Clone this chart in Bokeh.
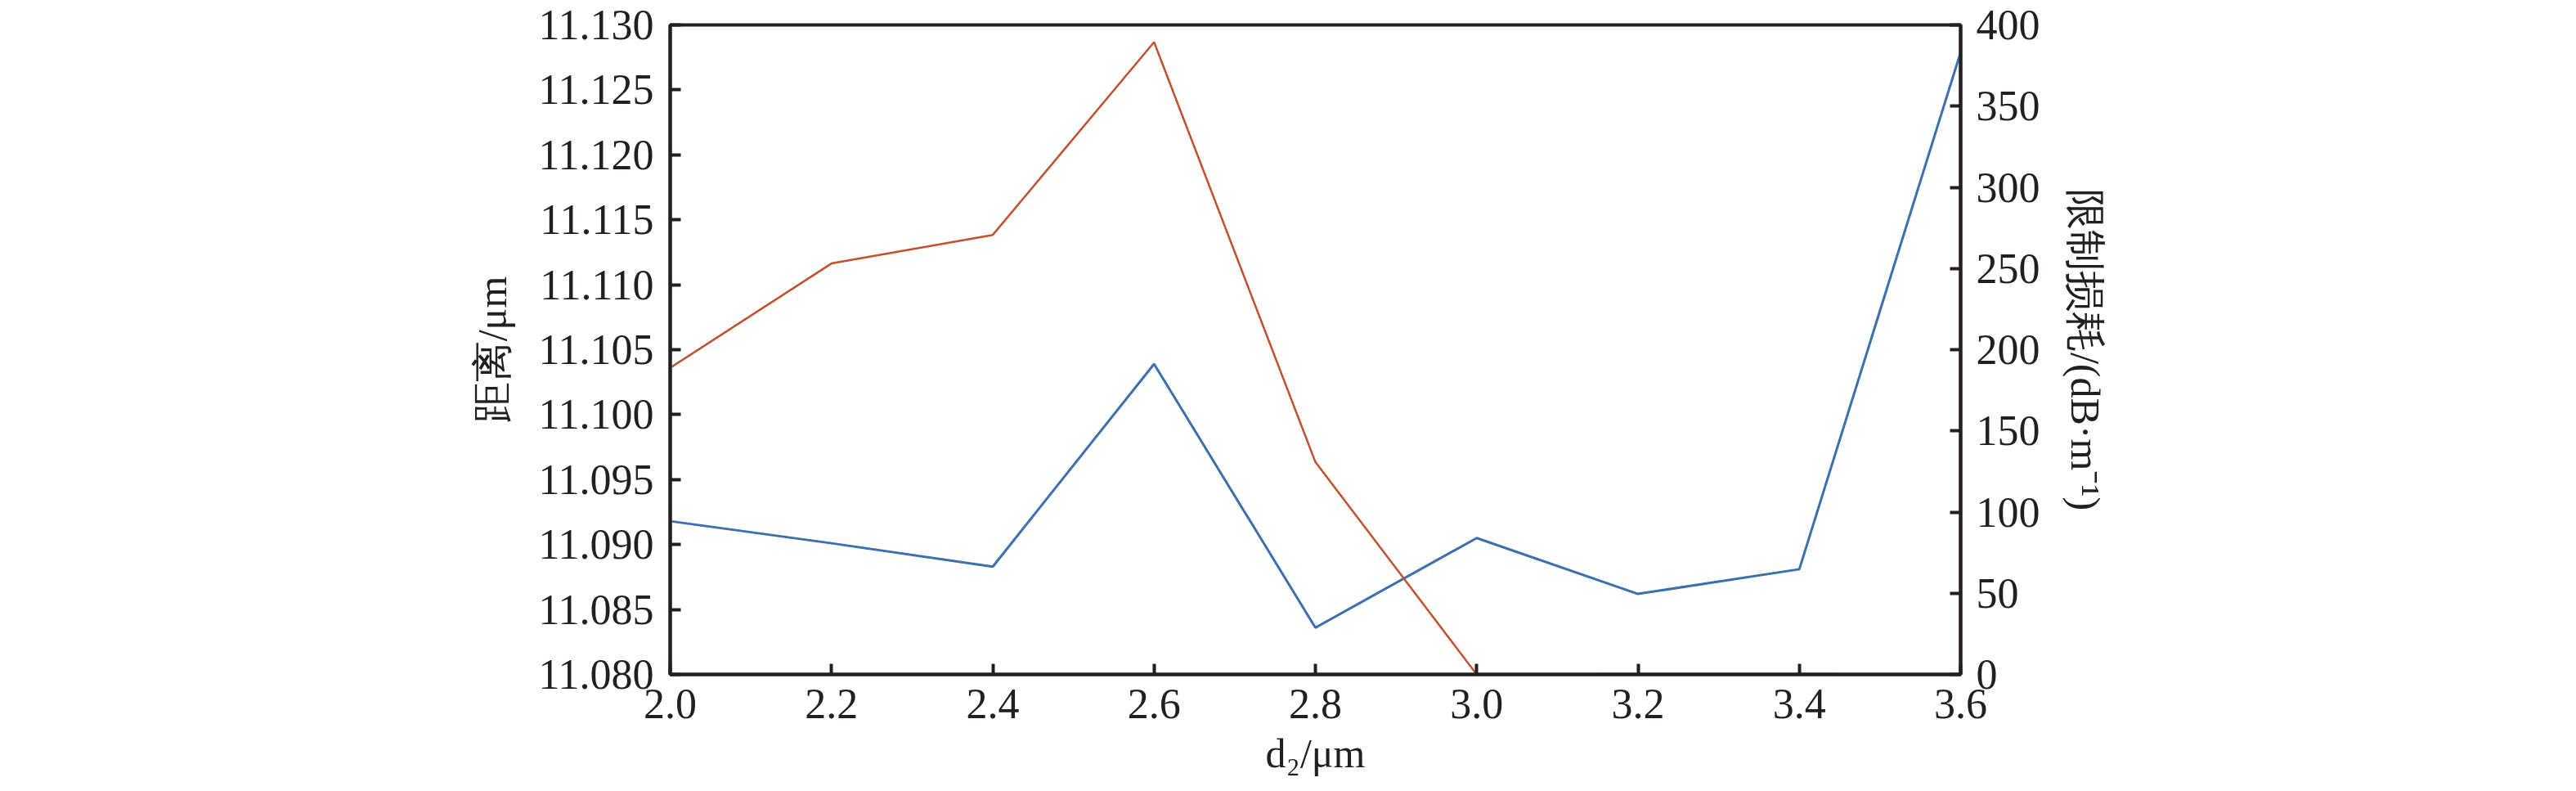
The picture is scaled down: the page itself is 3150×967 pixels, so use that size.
from bokeh.plotting import figure
from bokeh.models import LinearAxis, Range1d, SingleIntervalTicker, NumeralTickFormatter
from bokeh.embed import file_html
from bokeh.resources import INLINE

# data
d2 = [2.0, 2.2, 2.4, 2.6, 2.8, 3.0, 3.2, 3.4, 3.6]
distance = [11.0918, 11.0901, 11.0883, 11.1039, 11.0836, 11.0905, 11.0862, 11.0881, 11.1279]
loss = [188.8, 253.1, 270.7, 389.4, 130.8, 0.0, 0.3, 0.2, 0.1]

x_label = "d\u2082/\u03bcm"
left_label = "距离/μm"
right_label = "限制损耗/(dB·m\u207b\u00b9)"

FONT = "Liberation Serif"
TICK_SIZE = "52px"
LABEL_SIZE = "50px"
BLUE = "#3b6fad"
RED = "#c0502e"
INK = "#231f20"

p = figure(width=3150, height=967, output_backend="svg", toolbar_location=None,
           x_range=Range1d(2.0, 3.6), y_range=Range1d(11.080, 11.130),
           min_border_left=819, min_border_right=753, min_border_top=30, min_border_bottom=143)
p.extra_y_ranges = {"loss": Range1d(0, 400)}
p.grid.visible = False
p.background_fill_color = "white"
p.border_fill_color = "white"
p.outline_line_color = INK
p.outline_line_width = 4
p.outline_line_alpha = 1

p.line(d2, distance, line_color=BLUE, line_width=3)
p.line(d2, loss, line_color=RED, line_width=2.5, y_range_name="loss")

right = LinearAxis(y_range_name="loss")
p.add_layout(right, "right")

p.xaxis.ticker = SingleIntervalTicker(interval=0.2)
p.xaxis.formatter = NumeralTickFormatter(format="0.0")
p.yaxis[0].ticker = SingleIntervalTicker(interval=0.005)
p.yaxis[0].formatter = NumeralTickFormatter(format="0.000")
right.ticker = SingleIntervalTicker(interval=50)
right.formatter = NumeralTickFormatter(format="0")

p.xaxis.axis_label = x_label
p.yaxis[0].axis_label = left_label
right.axis_label = right_label

for ax in [p.xaxis[0], p.yaxis[0], right]:
    ax.axis_line_color = INK
    ax.axis_line_width = 4
    ax.major_tick_line_color = INK
    ax.major_tick_line_width = 4
    ax.major_tick_in = 13
    ax.major_tick_out = 0
    ax.minor_tick_line_color = None
    ax.major_label_text_font = FONT
    ax.major_label_text_font_size = TICK_SIZE
    ax.major_label_text_color = INK
    ax.axis_label_text_font = FONT
    ax.axis_label_text_font_size = LABEL_SIZE
    ax.axis_label_text_font_style = "normal"
    ax.axis_label_text_color = INK

p.xaxis.major_label_standoff = 14
p.xaxis.axis_label_standoff = 12
p.yaxis[0].major_label_standoff = 16
p.yaxis[0].axis_label_standoff = 25
right.major_label_standoff = 15
right.axis_label_standoff = 24

open("out.html", "w").write(file_html(p, INLINE))
